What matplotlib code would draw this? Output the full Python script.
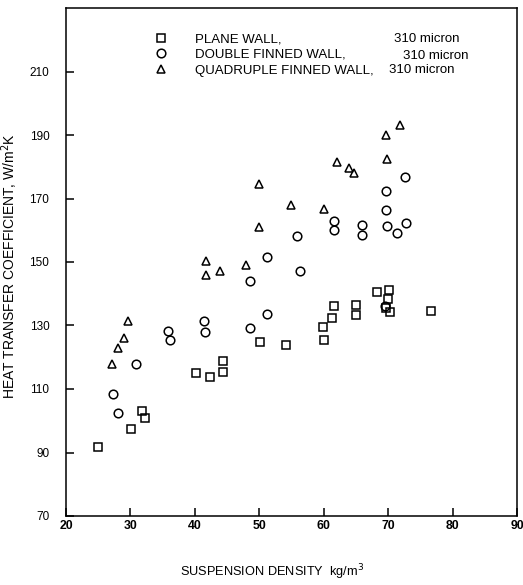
import numpy as np
import matplotlib
matplotlib.use("Agg")
import matplotlib.pyplot as plt

plt.rcParams['font.family'] = ['Liberation Sans', 'DejaVu Sans']

# suspension density (kg/m3) and heat transfer coefficient (W/m2K)
plane_x = [25.0, 30.1, 31.8, 32.2, 40.1, 42.3, 44.3, 44.3, 50.1, 54.1, 59.9,
           60.1, 61.3, 61.6, 65.0, 65.0, 68.2, 70.1, 70.0, 69.6, 70.3, 76.6]
plane_h = [91.7, 97.4, 103.1, 101.0, 115.0, 113.8, 118.7, 115.2, 124.7, 123.8, 129.5,
           125.5, 132.4, 136.0, 136.6, 133.4, 140.7, 141.3, 138.4, 135.5, 134.1, 134.7]

double_x = [27.3, 28.1, 30.8, 35.8, 36.2, 41.4, 41.5, 48.5, 51.2, 48.6, 51.2, 56.3,
            55.8, 61.6, 61.6, 65.9, 66.0, 69.6, 69.6, 72.6, 69.9, 71.3, 72.8, 69.5]
double_h = [108.5, 102.4, 118.0, 128.3, 125.3, 131.3, 128.1, 129.3, 133.7, 144.1, 151.6, 147.2,
            158.1, 162.8, 160.0, 161.8, 158.4, 172.5, 166.5, 176.7, 161.2, 159.1, 162.3, 136.0]

quad_x = [27.1, 28.0, 29.0, 29.7, 41.7, 41.7, 43.9, 48.0, 49.9, 49.9, 54.9, 60.1,
          62.0, 63.9, 64.7, 71.8, 69.7, 69.8]
quad_h = [117.8, 122.9, 126.2, 131.5, 150.2, 146.0, 147.3, 148.9, 161.0, 174.6, 167.9, 166.8,
          181.4, 179.7, 178.1, 193.3, 190.1, 182.3]

labels = ['PLANE WALL,', 'DOUBLE FINNED WALL,', 'QUADRUPLE FINNED WALL,']
sizes = ['310 micron', '310 micron', '310 micron']

x_ticks = [20, 30, 40, 50, 60, 70, 80, 90]
y_ticks = [70, 90, 110, 130, 150, 170, 190, 210]

fig = plt.figure(figsize=(5.23, 5.85), dpi=100)
ax = fig.add_axes([66 / 523, 1 - 516 / 585, 451 / 523, 508 / 585])

kw = dict(linestyle='none', mfc='none', mec='black', mew=1.1)
ax.plot(plane_x, plane_h, marker='s', ms=5.5, label=labels[0], **kw)
ax.plot(double_x, double_h, marker='o', ms=6.2, label=labels[1], **kw)
ax.plot(quad_x, quad_h, marker='^', ms=6.2, label=labels[2], **kw)

ax.set_xlim(20, 90)
ax.set_ylim(70, 230)
ax.set_xticks(x_ticks)
ax.set_yticks(y_ticks)
ax.tick_params(direction='in', length=6, width=1.1, color='black')
ax.tick_params(axis='x', pad=3, labelsize=8.8)
ax.tick_params(axis='y', pad=12, labelsize=8.5)
for t in ax.get_xticklabels():
    t.set_fontweight('bold')
for s in ax.spines.values():
    s.set_linewidth(1.1)

# axis titles placed in figure pixels
fig.text(10 / 523, 1 - 266 / 585, 'HEAT TRANSFER COEFFICIENT, W/m$^2$K',
         rotation=90, ha='center', va='center', fontsize=10)
fig.text(272 / 523, 1 - 572 / 585, 'SUSPENSION DENSITY  kg/m$^3$',
         ha='center', va='center', fontsize=9.2)

ax.legend(loc='upper left', bbox_to_anchor=(0.196, 0.951), frameon=False,
          fontsize=9.5, handlelength=1.0, handletextpad=2.05, labelspacing=0.27,
          borderpad=0, borderaxespad=0)
size_x = [0.727, 0.747, 0.716]
size_y = [0.938, 0.906, 0.877]
for sx, sy, s in zip(size_x, size_y, sizes):
    ax.text(sx, sy, s, transform=ax.transAxes, fontsize=9.5, va='center', ha='left')

fig.savefig('out.png', dpi=100)
